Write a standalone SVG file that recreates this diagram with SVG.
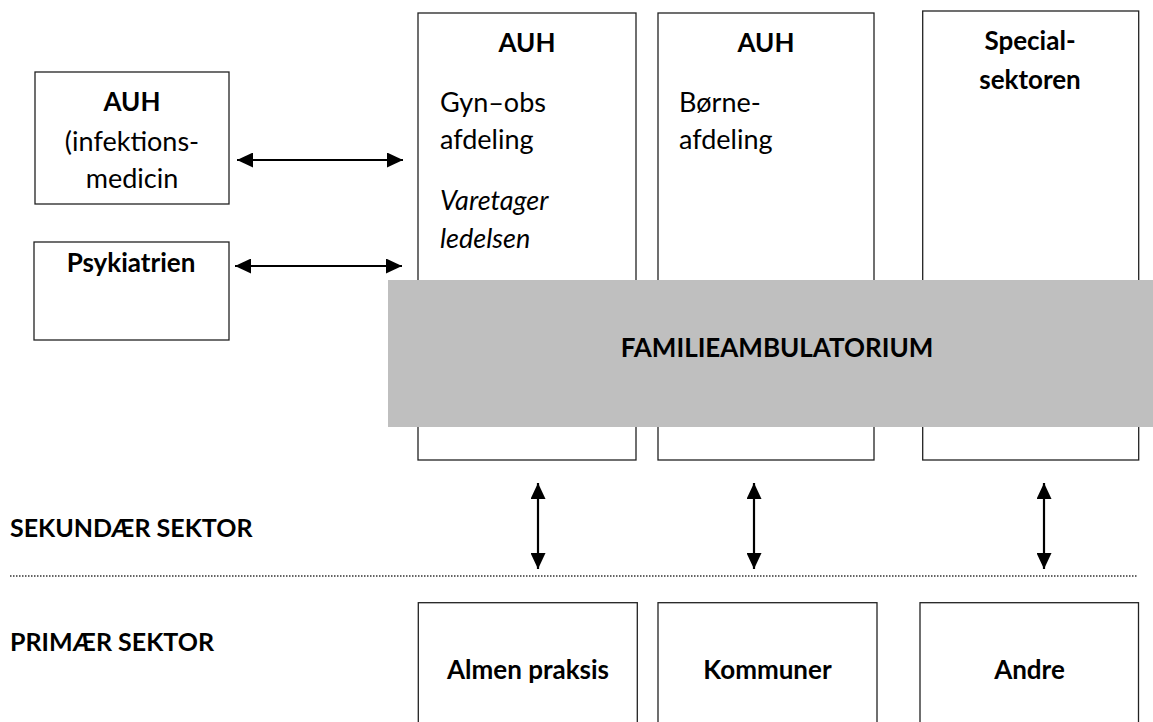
<svg xmlns="http://www.w3.org/2000/svg" width="1153" height="722" viewBox="0 0 1153 722">
<style>
.box{fill:#fff;stroke:#222;stroke-width:1.3}
.band{fill:#bfbfbf}
text{font-family:Lato,"Open Sans","Liberation Sans",sans-serif;font-size:27px;fill:#000}
.b{font-weight:bold;font-size:26px}
.i{font-style:italic}
.c{text-anchor:middle}
.sec{font-size:25px}
.conn line{stroke:#000;stroke-width:2.2}
.dot{stroke:#333;stroke-width:1.3;stroke-dasharray:1.5 1.5}
</style>
<defs>
<marker id="ah" viewBox="0 0 16 15" markerUnits="userSpaceOnUse" markerWidth="16" markerHeight="15" refX="16" refY="7.5" orient="auto-start-reverse">
<path d="M0,0 L16,7.5 L0,15 z" fill="#000"/>
</marker>
</defs>
<rect width="1153" height="722" fill="#fff"/>
<g id="col-gynobs">
<rect class="box" x="418" y="13" width="218" height="447"/>
<text class="b c" x="527" y="52">AUH</text>
<text x="440" y="112">Gyn–obs</text>
<text x="440" y="149">afdeling</text>
<text class="i" x="440" y="210">Varetager</text>
<text class="i" x="440" y="248">ledelsen</text>
</g>
<g id="col-boerne">
<rect class="box" x="658" y="13" width="216" height="447"/>
<text class="b c" x="766" y="52">AUH</text>
<text x="679" y="112">Børne-</text>
<text x="679" y="149">afdeling</text>
</g>
<g id="col-special">
<rect class="box" x="922.7" y="11" width="216" height="449"/>
<text class="b c" x="1030" y="50">Special-</text>
<text class="b c" x="1030" y="89">sektoren</text>
</g>
<g id="familieambulatorium">
<rect class="band" x="388" y="280" width="765" height="147"/>
<text class="b c" x="777" y="357">FAMILIEAMBULATORIUM</text>
</g>
<g id="auh-infektion">
<rect class="box" x="35" y="72" width="194" height="132"/>
<text class="b c" x="132" y="111">AUH</text>
<text class="c" x="132" y="151">(infektions-</text>
<text class="c" x="132" y="188">medicin</text>
</g>
<g id="psykiatrien">
<rect class="box" x="34" y="242" width="195" height="98"/>
<text class="b c" x="131" y="272">Psykiatrien</text>
</g>
<g id="sector-labels">
<text class="b sec" x="10" y="537">SEKUNDÆR SEKTOR</text>
<text class="b sec" x="10" y="651">PRIMÆR SEKTOR</text>
<line class="dot" x1="10" y1="576" x2="1137" y2="576"/>
</g>
<g id="almen-praksis">
<rect class="box" x="418.3" y="602.7" width="219" height="130"/>
<text class="b c" x="528" y="679">Almen praksis</text>
</g>
<g id="kommuner">
<rect class="box" x="658" y="602.7" width="219" height="130"/>
<text class="b c" x="767.5" y="679">Kommuner</text>
</g>
<g id="andre">
<rect class="box" x="920" y="602.7" width="218.5" height="130"/>
<text class="b c" x="1029.5" y="679">Andre</text>
</g>
<g id="connectors" class="conn">
<line x1="237" y1="160" x2="403" y2="160" marker-start="url(#ah)" marker-end="url(#ah)"/>
<line x1="235" y1="266" x2="402" y2="266" marker-start="url(#ah)" marker-end="url(#ah)"/>
<line x1="538" y1="483" x2="538" y2="569" marker-start="url(#ah)" marker-end="url(#ah)"/>
<line x1="754" y1="483" x2="754" y2="569" marker-start="url(#ah)" marker-end="url(#ah)"/>
<line x1="1044" y1="483" x2="1044" y2="569" marker-start="url(#ah)" marker-end="url(#ah)"/>
</g>
</svg>
